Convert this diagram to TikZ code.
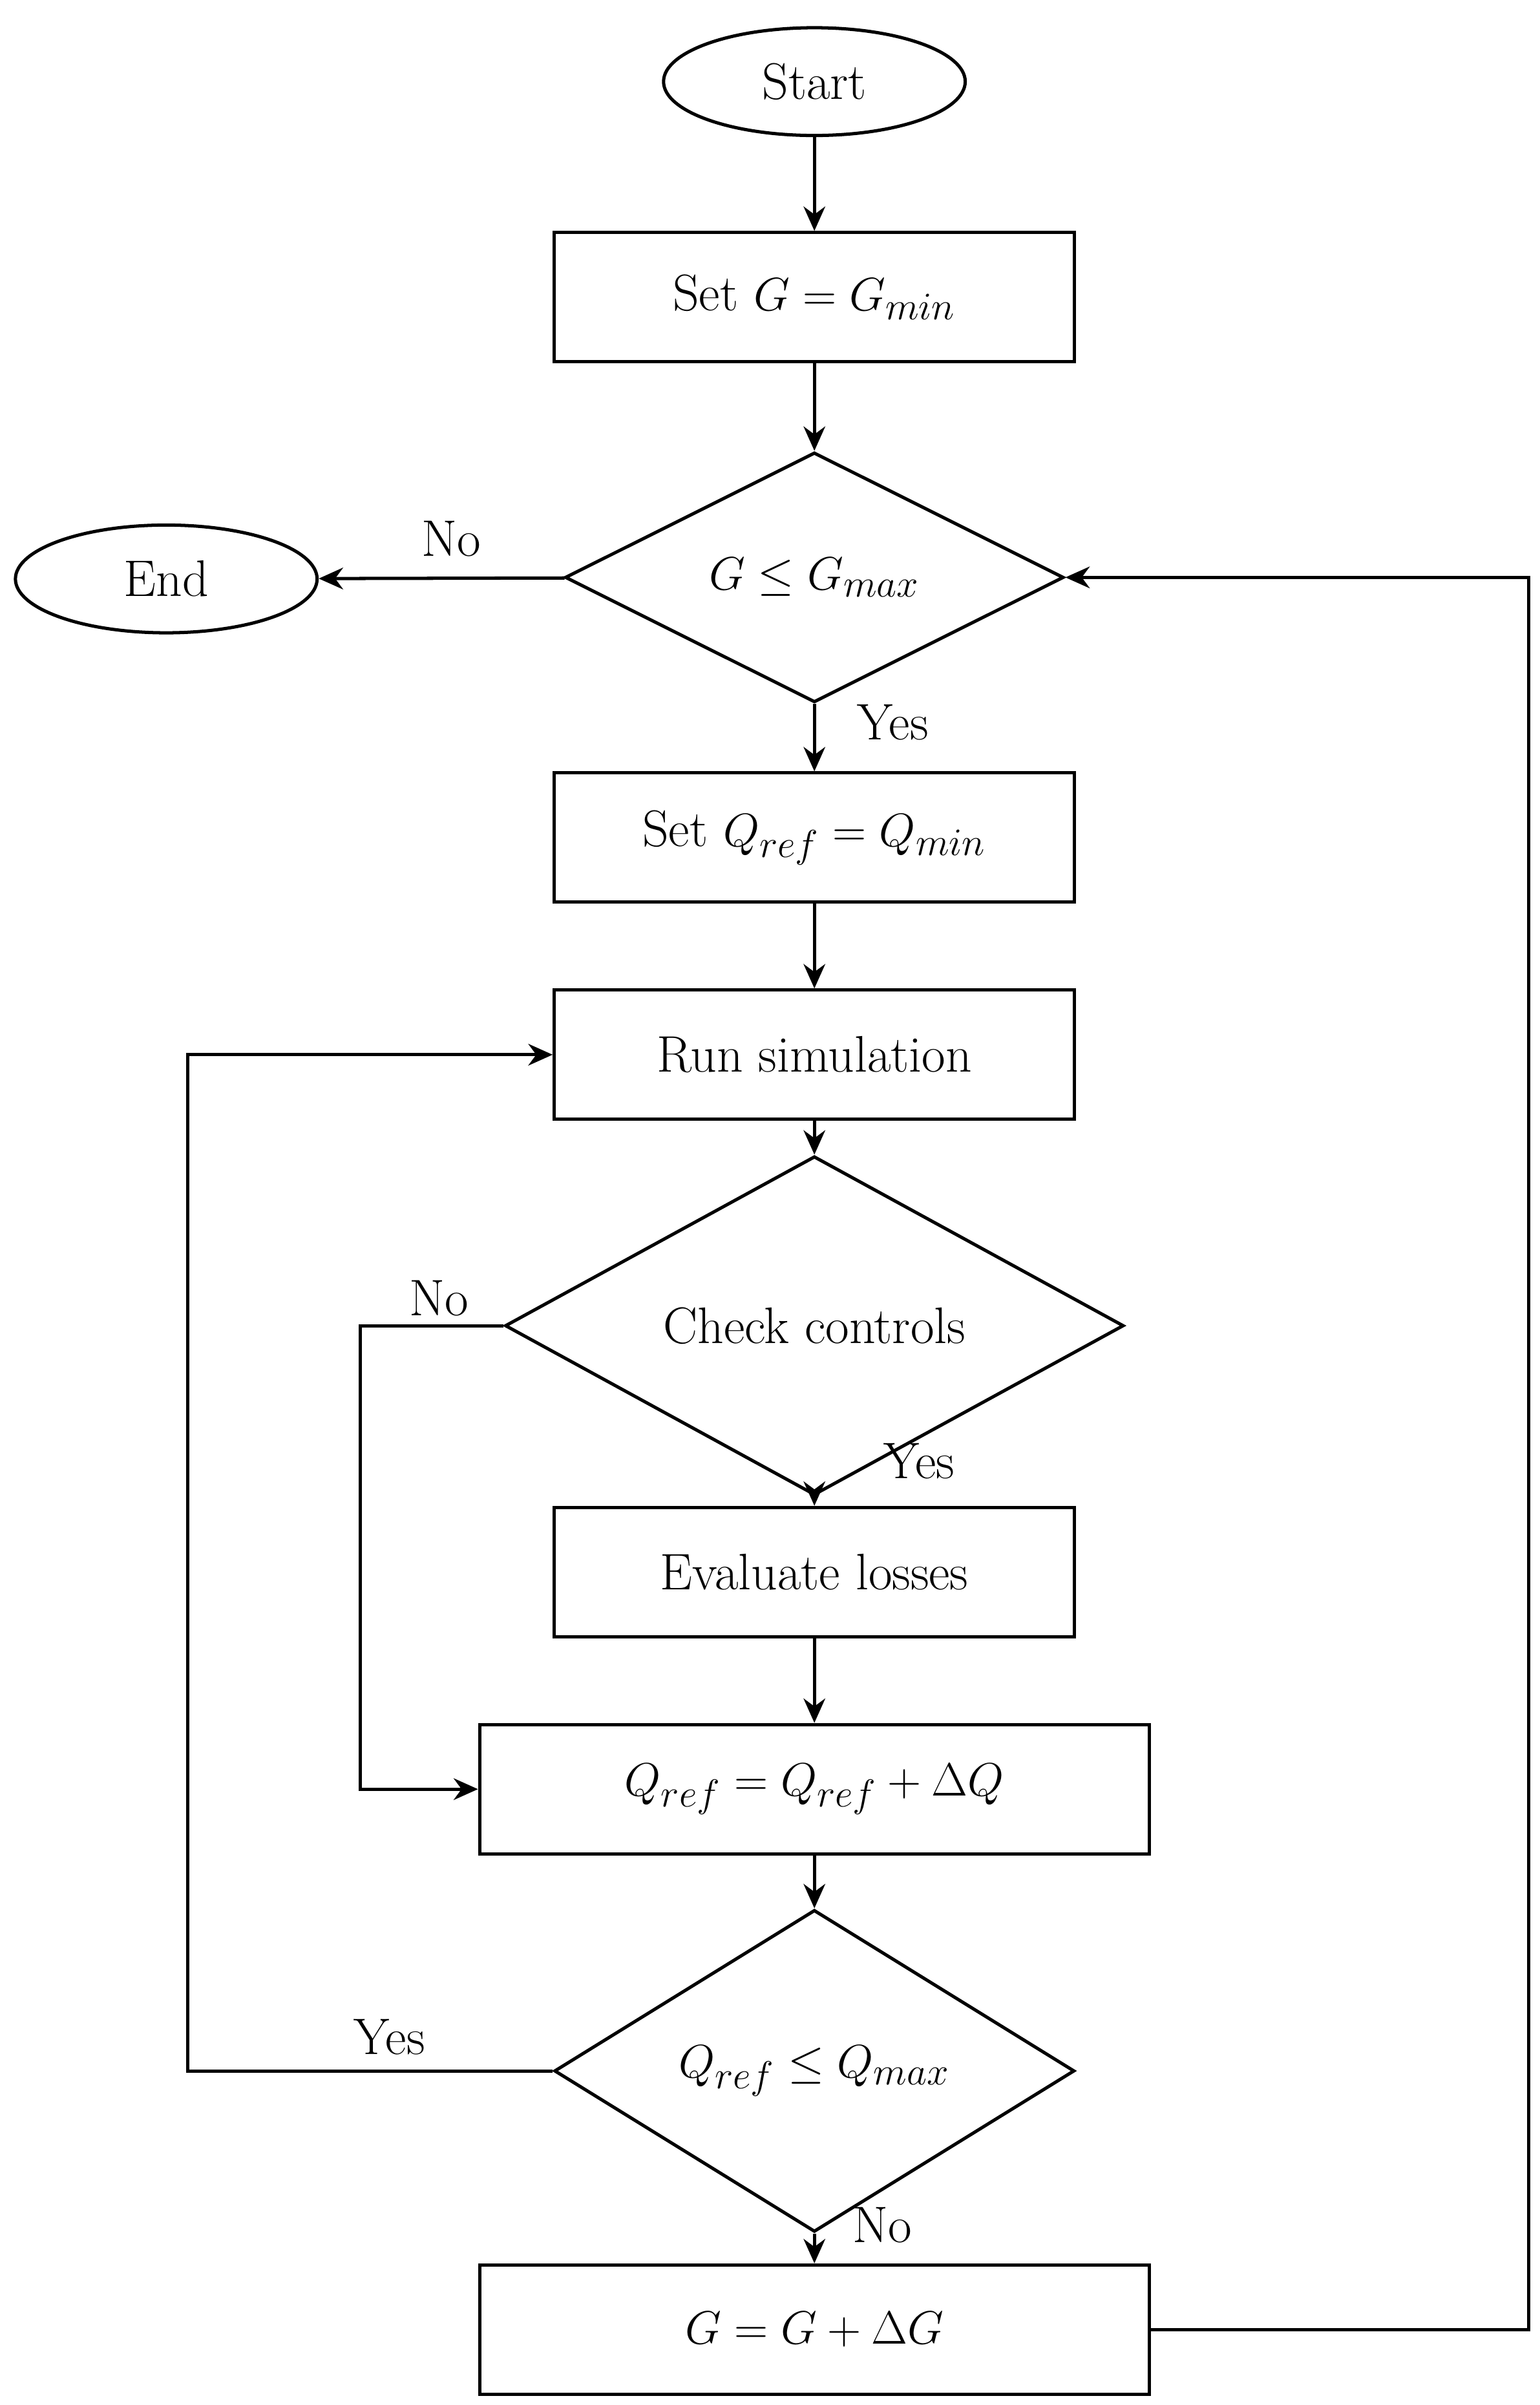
\documentclass[tikz,border=0pt]{standalone}
\usetikzlibrary{shapes.geometric,arrows.meta}
\begin{document}
\begin{tikzpicture}[x=0.02cm,y=-0.02cm,
  every node/.style={font=\fontsize{19}{23}\selectfont},
  base/.style={draw,line width=1.2pt,inner sep=0pt},
  box/.style={base,rectangle,minimum height=1.68cm},
  dia/.style={base,diamond},
  ell/.style={base,ellipse,minimum width=3.92cm,minimum height=1.4cm},
  arr/.style={line width=1.2pt,-{Stealth[length=9pt,width=8pt]}},
  lbl/.style={font=\fontsize{19}{23}\selectfont}]
\useasboundingbox (0,0) rectangle (1000,1562);
\node[ell] (start) at (529,53) {Start};
\node[box,minimum width=6.76cm] (setg) at (529,193) {Set $G=G_{min}$};
\node[dia,minimum width=6.48cm,minimum height=2.8cm] (d1) at (529,375) {$G\leq G_{max}$};
\node[ell] (end) at (108,376) {End};
\node[box,minimum width=6.76cm] (setq) at (529,544) {Set $Q_{ref}=Q_{min}$};
\node[box,minimum width=6.76cm] (run) at (529,685) {Run simulation};
\node[dia,minimum width=8.04cm,minimum height=3.1cm] (d2) at (529,861) {Check controls};
\node[box,minimum width=6.76cm] (eval) at (529,1021) {Evaluate losses};
\node[box,minimum width=8.7cm] (upq) at (529,1162) {$Q_{ref}=Q_{ref}+\Delta Q$};
\node[dia,minimum width=6.76cm,minimum height=3.34cm] (d3) at (529,1345) {$Q_{ref}\leq Q_{max}$};
\node[box,minimum width=8.7cm] (upg) at (529,1513) {$G=G+\Delta G$};
\coordinate (r1) at (993,1513); \coordinate (r2) at (993,375);
\coordinate (l1) at (122,1345); \coordinate (l2) at (122,685);
\coordinate (n1) at (234,861); \coordinate (n2) at (234,1162);
\draw[arr] (start) -- (setg);
\draw[arr] (setg) -- (d1);
\draw[arr] (d1) -- (end);
\draw[arr] (d1) -- (setq);
\draw[arr] (setq) -- (run);
\draw[arr] (run) -- (d2);
\draw[arr] (d2) -- (eval);
\draw[arr] (eval) -- (upq);
\draw[arr] (upq) -- (d3);
\draw[arr] (d3) -- (upg);
\draw[arr] (upg.east) -- (r1) -- (r2) -- (d1.east);
\draw[arr] (d3.west) -- (l1) -- (l2) -- (run.west);
\draw[arr] (d2.west) -- (n1) -- (n2) -- (upq.west);
\node[lbl] (t1) at (293,350) {No};
\node[lbl] (t2) at (580,469) {Yes};
\node[lbl] (t3) at (285,843) {No};
\node[lbl] (t4) at (597,949) {Yes};
\node[lbl] (t5) at (253,1323) {Yes};
\node[lbl] (t6) at (573,1445) {No};
\end{tikzpicture}
\end{document}
